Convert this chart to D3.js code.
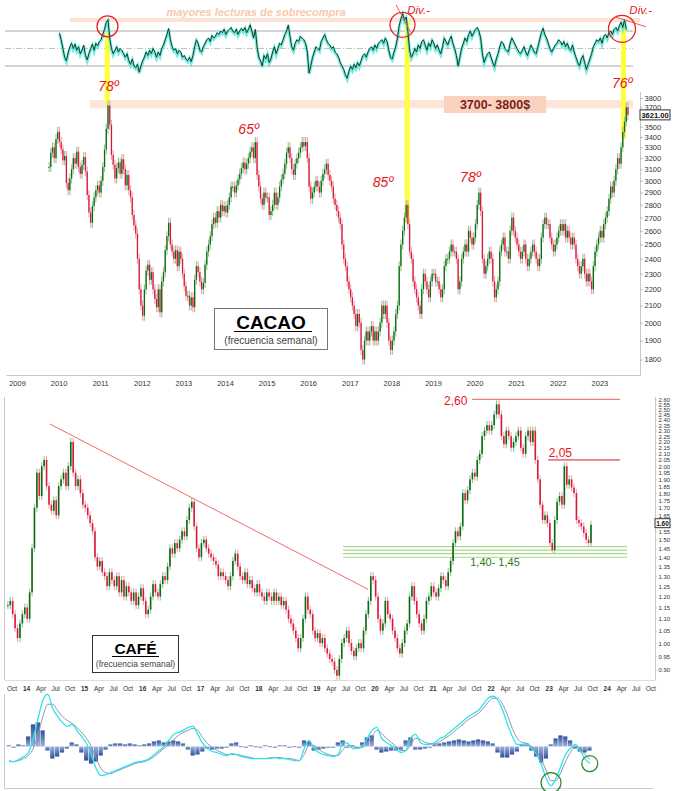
<!DOCTYPE html>
<html><head><meta charset="utf-8">
<script src="https://cdn.jsdelivr.net/npm/d3@7"></script>
<style>body{margin:0;background:#fff}svg{display:block}text{font-family:"Liberation Sans",Arial,sans-serif}</style>
</head><body>
<script>
// ===== CACAO (weekly chart, read semi-monthly), start Oct 2009 =====
const cacaoStart = 2009.75;
const cacaoClose = [
3120,3250,3300,3200,3380,3450,
3350,3280,3180,3220,2980,2920,3020,3100,3200,3150,3260,3120,3060,3140,3210,3080,2880,2740,2660,2790,2860,2920,2960,2900,
3000,3120,3280,3480,3720,3520,3230,3140,3020,3110,3160,3060,3190,3100,2960,3050,2920,2860,2720,2640,2580,2400,2200,2100,
2040,2200,2320,2360,2260,2310,2200,2140,2090,2200,2060,2250,2310,2460,2560,2660,2500,2450,2400,2460,2350,2450,2400,2300,
2220,2160,2160,2100,2150,2090,2260,2350,2310,2250,2200,2240,2360,2450,2500,2560,2650,2700,2660,2750,2700,2800,2750,2790,
2740,2800,2860,2950,2950,2900,2960,3010,3060,3110,3160,3100,3150,3200,3260,3300,3200,3350,3050,2950,2850,2800,2900,2860,
2860,2720,2750,2800,2900,2800,2860,2950,3010,3060,3150,3250,3300,3200,3100,3050,3150,3200,3250,3300,3350,3310,3350,3200,
2950,2850,2900,2950,3000,2950,2900,3000,3060,3100,3150,3050,3000,2950,2850,2800,2750,2700,2650,2500,2400,2350,2250,2200,
2150,2100,2050,1980,2050,2000,1850,1800,1900,1950,1900,1950,1980,1900,1950,1900,1950,2000,2100,2050,2100,2000,1900,1850,
1900,1950,2050,2100,2350,2500,2600,2700,2800,2650,2450,2400,2250,2200,2150,2100,2050,2200,2300,2250,2200,2150,2250,2300,
2300,2250,2250,2200,2150,2200,2350,2400,2400,2450,2500,2450,2450,2400,2200,2250,2400,2450,2500,2450,2600,2550,2500,2550,
2650,2800,2900,2750,2400,2300,2350,2400,2450,2400,2250,2150,2200,2250,2450,2500,2550,2450,2450,2400,2600,2700,2600,2550,
2500,2450,2400,2450,2500,2400,2350,2400,2450,2500,2450,2400,2350,2400,2550,2650,2700,2650,2650,2550,2500,2450,2500,2550,
2600,2650,2600,2650,2550,2600,2550,2500,2550,2500,2400,2350,2300,2350,2400,2300,2250,2300,2250,2200,2350,2450,2500,2550,
2600,2550,2650,2700,2750,2850,2950,2900,3000,3100,3200,3150,3300,3450,3550,3700,3621
];
const cacaoTicks = [1800,1900,2000,2100,2200,2300,2400,2500,2600,2700,2800,2900,3000,3100,3200,3300,3400,3500,3600,3700,3800];
const cacaoYears = [2009,2010,2011,2012,2013,2014,2015,2016,2017,2018,2019,2020,2021,2022,2023];
const cacaoLast = 3621;

// overbought oscillator (semi-monthly), start Jan 2010
const oscStart = 2010.0;
const oscValues = [
68,60,50,40,36,45,52,56,50,55,48,52,44,48,54,42,37,44,50,55,48,56,53,58,
60,66,72,80,83,62,50,44,48,52,46,50,48,44,40,44,36,32,38,30,28,32,23,30,
36,40,46,42,48,44,50,46,40,46,42,50,54,60,66,73,60,52,48,50,44,48,46,40,
42,38,36,40,35,42,52,60,56,48,46,52,56,60,62,58,65,62,64,68,66,70,68,72,
66,70,72,74,70,68,72,66,70,73,70,74,68,72,77,70,62,72,52,40,36,30,42,38,
44,34,38,46,52,44,50,56,54,60,66,70,77,64,52,48,56,60,58,64,62,60,56,46,
22,30,40,46,52,50,48,58,62,66,60,56,54,50,52,46,44,40,34,30,26,20,16,24,
30,26,32,28,34,30,36,42,44,40,46,50,52,48,54,50,56,58,60,56,62,58,48,40,
38,46,52,62,76,84,90,82,86,70,48,40,44,50,46,54,50,58,60,54,48,56,52,60,
56,50,54,48,44,52,62,58,54,60,64,56,50,42,30,40,50,56,62,58,66,70,64,68,
72,74,70,62,44,34,40,44,46,40,34,29,38,44,52,58,56,50,48,46,56,62,58,54,
50,46,44,48,52,46,42,48,54,50,46,44,52,60,68,73,66,62,56,50,46,50,54,56,
60,58,54,58,52,56,50,48,54,46,40,34,30,38,42,34,26,32,38,44,52,56,60,58,
62,56,64,66,62,68,70,66,72,74,70,76,80,74,83,72
];
const oscLevels = [70,50,30];
// annotations: time, osc top, price bottom
const peakMarks = [
  {t:2011.17, osc:68, price:3740, circ:{t:2011.175, osc:75.4, r:10.5}},
  {t:2018.38, osc:83, price:2660, circ:{t:2018.267, osc:77.1, r:12.5}},
  {t:2023.58, osc:74, price:3380, circ:{t:2023.543, osc:72.5, r:13.5}}
];
const degLabels = [
  {t:2011.2, price:3880, text:"78º"},
  {t:2014.57, price:3430, text:"65º"},
  {t:2017.8, price:2950, text:"85º"},
  {t:2019.9, price:2990, text:"78º"},
  {t:2023.55, price:3910, text:"76º"}
];
const divLines = [
  {t1:2018.11, o1:99.9, t2:2018.47, o2:67.9, lt:2018.38, lo:89},
  {t1:2023.375, o1:86.2, t2:2024.12, o2:74.8, lt:2023.72, lo:89}
];

// ===== CAFÉ (weekly chart, read semi-monthly), start Sep 2013 =====
const cafeStart = 2013 + 8/12;
const cafeClose = [
1.16,1.18,1.12,1.06,1.02,1.08,1.12,1.15,
1.10,1.22,1.45,1.70,1.95,1.78,2.00,2.05,1.85,1.72,1.68,1.75,1.65,1.85,1.90,1.95,1.85,2.00,2.20,1.95,1.85,1.90,1.80,1.72,
1.70,1.65,1.60,1.55,1.40,1.35,1.38,1.32,1.30,1.25,1.32,1.28,1.25,1.30,1.22,1.28,1.20,1.25,1.22,1.18,1.22,1.16,1.20,1.24,
1.18,1.12,1.14,1.20,1.26,1.22,1.20,1.26,1.30,1.28,1.35,1.45,1.42,1.48,1.45,1.50,1.55,1.52,1.62,1.70,1.74,1.58,1.45,1.40,
1.48,1.50,1.45,1.42,1.40,1.38,1.36,1.30,1.32,1.30,1.28,1.25,1.30,1.38,1.42,1.35,1.30,1.28,1.32,1.26,1.28,1.24,1.22,1.26,
1.22,1.20,1.18,1.22,1.20,1.18,1.22,1.18,1.20,1.16,1.18,1.14,1.10,1.08,1.05,1.02,0.98,1.02,1.10,1.20,1.14,1.12,1.05,1.02,
1.04,1.00,1.02,0.98,0.96,0.94,0.93,0.90,0.88,0.94,1.00,1.02,1.05,1.00,0.97,0.95,0.98,1.00,0.98,1.05,1.12,1.18,1.30,1.28,
1.20,1.10,1.05,1.08,1.18,1.12,1.10,1.05,1.02,0.98,0.96,1.00,1.05,1.08,1.20,1.25,1.18,1.12,1.08,1.05,1.10,1.18,1.20,1.25,
1.22,1.20,1.24,1.30,1.28,1.25,1.32,1.38,1.48,1.55,1.52,1.58,1.80,1.75,1.82,1.90,1.95,1.92,2.05,2.10,2.25,2.30,2.35,2.30,
2.35,2.45,2.55,2.45,2.25,2.18,2.30,2.25,2.15,2.20,2.25,2.30,2.15,2.10,2.25,2.30,2.20,2.30,2.05,1.90,1.72,1.62,1.65,1.60,
1.48,1.44,1.62,1.74,1.78,1.72,2.00,1.86,1.90,1.84,1.80,1.62,1.60,1.58,1.54,1.50,1.48,1.59
];
const cafeTicks = [0.90,0.95,1.00,1.05,1.10,1.15,1.20,1.25,1.30,1.35,1.40,1.45,1.50,1.55,1.60,1.65,1.70,1.75,1.80,1.85,1.90,1.95,2.00,2.05,2.10,2.15,2.20,2.25,2.30,2.35,2.40,2.45,2.50,2.55,2.60];
const cafeQuarterNames = ["Jan","Apr","Jul","Oct"];
const cafeLast = 1.60;
const cafeTrend = [{t:2014.413, v:2.36},{t:2019.889, v:1.235}];
const cafeResist = [{v:2.60, t1:2021.68, t2:2024.23, label:"2,60", lt:2021.2}, {v:2.05, t1:2022.99, t2:2024.23, label:"2,05", lt:2023.0}];
const cafeSupport = [1.46,1.44,1.42,1.40];
const cafeSupportSpan = [2019.46, 2024.35];

// MACD (monthly), start Sep 2013
const macdLine = [-15,-15,-13,-10,-6,8,28,46,52,38,30,24,20,22,16,10,3,-8,-22,-29,-28,-26,-24,-22,-20,-18,-16,-15,-14,-12,-8,-4,0,6,12,14,16,19,20,12,3,-2,-5,-6,-8,-9,-7,-8,-10,-11,-12,-12,-12,-12,-11,-11,-12,-12,-13,-14,-14,-2,6,-2,-6,-8,-9,-10,-8,4,3,-2,-2,0,8,16,19,8,4,1,-3,-6,-4,8,12,4,2,2,4,8,10,14,18,22,26,30,33,36,42,48,50,46,36,22,10,2,2,2,-2,-8,-18,-32,-39,-32,-20,-8,-2,2,-4,-12,-17];
const macdSignal = [-14,-15,-14,-12,-9,-2,12,30,42,42,36,30,26,23,19,14,8,0,-12,-22,-26,-27,-25,-23,-21,-19,-17,-16,-15,-13,-10,-6,-2,2,7,11,14,16,18,16,9,3,-1,-4,-6,-8,-8,-8,-9,-10,-11,-12,-12,-12,-12,-11,-11,-12,-12,-13,-14,-8,1,1,-3,-6,-8,-9,-9,-3,1,0,-1,-1,3,10,16,13,8,4,0,-4,-4,2,8,7,4,3,3,5,8,11,15,19,23,27,30,33,38,44,48,48,42,31,18,8,4,3,0,-5,-13,-24,-34,-34,-26,-15,-6,0,-2,-8,-13];
const macdHist = [1,-1,2,1,10,22,24,16,-4,-12,-10,-6,-2,4,2,-6,-14,-17,-15,-9,-3,2,3,3,2,3,2,1,2,3,5,6,4,5,6,5,3,-3,-9,-8,-5,-2,-3,-2,-2,-1,3,4,0,-1,1,0,-1,1,0,-1,1,1,-1,0,-1,6,5,-4,-3,-2,-1,-1,4,6,-1,1,-1,4,9,11,-3,-6,-5,-4,-4,-3,6,9,-3,-3,-2,-1,2,3,4,5,6,7,6,5,6,7,6,5,3,-6,-11,-11,-8,-5,2,3,-4,-10,-16,-12,2,8,11,10,6,-2,-5,-6,-4];
const macdCircles = [{m:112, v:-36, r:10}, {m:120, v:-17, r:8}];

// ================= DRAW =================
const W = 679, H = 791;
const svg = d3.select("body").append("svg").attr("width", W).attr("height", H);
svg.append("rect").attr("width", W).attr("height", H).attr("fill", "#fff");

const UP = "#0b6b12", DN = "#d81b3c", UPW = "#93c593", DNW = "#f2a3b3";
const FONT = "'Liberation Sans',Arial,sans-serif";

// ---- cacao scales
const xC = d3.scaleLinear().domain([2009, 2024]).range([17, 17 + 41.6 * 15]);
const yC = d3.scaleLog().domain([1800, 3800]).range([359.5, 98]);
const yO = d3.scaleLinear().domain([30, 70]).range([66, 31]);

// oscillator strip: overbought band + text
svg.append("rect").attr("x", 70).attr("y", 18).attr("width", 570).attr("height", 4).attr("fill", "#fde2d2");
svg.append("text").attr("x", 256).attr("y", 16).attr("text-anchor", "middle")
  .attr("font-size", 11).attr("font-style", "italic").attr("font-weight", "bold").attr("fill", "#f6c9ad")
  .text("mayores lecturas de sobrecompra");
oscLevels.forEach((lv, i) => {
  svg.append("line").attr("x1", 5).attr("x2", 633).attr("y1", yO(lv)).attr("y2", yO(lv))
    .attr("stroke", i === 1 ? "#b9c9b9" : "#a9a9a9").attr("stroke-width", 1)
    .attr("stroke-dasharray", i === 1 ? "6,2,1,2" : null);
});

// price band 3700-3800
svg.append("rect").attr("x", 90).attr("y", yC(3800) + 2).attr("width", 543).attr("height", yC(3700) - yC(3800) - 1).attr("fill", "#fde6d8");

// yellow bars
peakMarks.forEach(p => {
  svg.append("rect").attr("x", xC(p.t) - 2.5).attr("width", 5)
    .attr("y", yO(p.osc)).attr("height", yC(p.price) - yO(p.osc)).attr("fill", "#ffff3a");
});

// oscillator line
const oscData = oscValues.map((v, i) => ({t: oscStart + (i + 0.5) / 24, v}));
const oscLine = d3.line().x(d => xC(d.t)).y(d => yO(d.v));
svg.append("path").datum(oscData).attr("d", oscLine).attr("fill", "none")
  .attr("stroke", "#56e8dc").attr("stroke-width", 3).attr("transform", "translate(0,1.2)").attr("opacity", 0.85);
svg.append("path").datum(oscData).attr("d", oscLine).attr("fill", "none")
  .attr("stroke", "#1d3b22").attr("stroke-width", 1);

// circles and divergence
peakMarks.forEach(p => {
  svg.append("circle").attr("cx", xC(p.circ.t)).attr("cy", yO(p.circ.osc)).attr("r", p.circ.r)
    .attr("fill", "none").attr("stroke", "#e8222a").attr("stroke-width", 1.3);
});
divLines.forEach(d => {
  svg.append("line").attr("x1", xC(d.t1)).attr("y1", yO(d.o1)).attr("x2", xC(d.t2)).attr("y2", yO(d.o2))
    .attr("stroke", "#ef5a5a").attr("stroke-width", 1);
  svg.append("text").attr("x", xC(d.lt)).attr("y", yO(d.lo)).attr("font-size", 11.5)
    .attr("font-style", "italic").attr("fill", "#e8222a").text("Div.-");
});

// candles: open = previous close
function candles(g, closes, start, step, x, y, bw, wick) {
  closes.forEach((c, i) => {
    const o = i ? closes[i - 1] : c;
    const t = start + (i + 0.5) * step;
    const up = c >= o;
    const hi = Math.max(o, c), lo = Math.min(o, c);
    const cx = x(t);
    g.append("line").attr("x1", cx).attr("x2", cx).attr("y1", y(hi) - wick).attr("y2", y(lo) + wick)
      .attr("stroke", up ? UPW : DNW).attr("stroke-width", 1.1);
    g.append("rect").attr("x", cx - bw / 2).attr("width", bw)
      .attr("y", y(hi)).attr("height", Math.max(1, y(lo) - y(hi)))
      .attr("fill", up ? UP : DN);
  });
}
candles(svg.append("g"), cacaoClose, cacaoStart, 1 / 24, xC, yC, 1.3, 5);

// degree labels
degLabels.forEach(d => {
  svg.append("text").attr("x", xC(d.t)).attr("y", yC(d.price)).attr("text-anchor", "middle")
    .attr("font-size", 14).attr("font-style", "italic").attr("fill", "#e8141e").text(d.text);
});

// 3700-3800 label
svg.append("rect").attr("x", 444).attr("y", 96).attr("width", 102).attr("height", 17).attr("fill", "#fad3c0");
svg.append("text").attr("x", 495).attr("y", 109).attr("text-anchor", "middle").attr("font-size", 12.5)
  .attr("font-weight", "bold").attr("fill", "#7a1c1c").text("3700- 3800$");

// cacao axes
svg.append("line").attr("x1", 6.5).attr("x2", 641).attr("y1", 375.5).attr("y2", 375.5).attr("stroke", "#c8c8c8");
svg.append("line").attr("x1", 640.5).attr("x2", 640.5).attr("y1", 92).attr("y2", 376).attr("stroke", "#c8c8c8");
const cacaoShown = cacaoTicks.filter(v => Math.abs(yC(v) - yC(cacaoLast)) > 6);
const axC = svg.append("g").attr("transform", "translate(640.5,0)")
  .call(d3.axisRight(yC).tickValues(cacaoShown).tickFormat(d3.format("d")).tickSize(2).tickPadding(2));
axC.select(".domain").remove();
axC.selectAll("text").attr("font-size", 7.5).attr("fill", "#333").attr("font-family", FONT);
axC.selectAll("line").attr("stroke", "#aaa");
svg.append("rect").attr("x", 640).attr("y", yC(cacaoLast) - 5).attr("width", 30).attr("height", 10)
  .attr("fill", "#fff").attr("stroke", "#333").attr("stroke-width", 1);
svg.append("text").attr("x", 655).attr("y", yC(cacaoLast) + 3).attr("text-anchor", "middle")
  .attr("font-size", 7.5).attr("font-weight", "bold").attr("fill", "#111").text(d3.format(".2f")(cacaoLast));
const axCx = svg.append("g").attr("transform", "translate(0,376)")
  .call(d3.axisBottom(xC).tickValues(cacaoYears).tickFormat(d3.format("d")).tickSize(0).tickPadding(5));
axCx.select(".domain").remove();
axCx.selectAll("text").attr("font-size", 7.5).attr("fill", "#333").attr("font-family", FONT);

// CACAO title box
svg.append("rect").attr("x", 214.5).attr("y", 308.5).attr("width", 113).attr("height", 41)
  .attr("fill", "#fff").attr("stroke", "#777").attr("stroke-width", 1);
svg.append("text").attr("x", 271).attr("y", 329).attr("text-anchor", "middle").attr("font-size", 19)
  .attr("font-weight", "bold").attr("fill", "#000").text("CACAO");
svg.append("line").attr("x1", 234).attr("x2", 312).attr("y1", 331.5).attr("y2", 331.5).attr("stroke", "#000").attr("stroke-width", 1.2);
svg.append("text").attr("x", 271).attr("y", 344).attr("text-anchor", "middle").attr("font-size", 10)
  .attr("fill", "#444").text("(frecuencia semanal)");

// ---- CAFÉ
const xF = d3.scaleLinear().domain([2014, 2024]).range([26, 26 + 580.7]);
const yF = d3.scaleLog().domain([0.9, 2.6]).range([670, 399.3]);

svg.append("line").attr("x1", 4.5).attr("x2", 4.5).attr("y1", 397).attr("y2", 680).attr("stroke", "#ccc");
svg.append("line").attr("x1", 655.5).attr("x2", 655.5).attr("y1", 397).attr("y2", 680).attr("stroke", "#ccc");
svg.append("line").attr("x1", 4.5).attr("x2", 655.5).attr("y1", 680.5).attr("y2", 680.5).attr("stroke", "#ddd");

// support lines
cafeSupport.forEach(v => {
  svg.append("line").attr("x1", xF(cafeSupportSpan[0])).attr("x2", xF(cafeSupportSpan[1]))
    .attr("y1", yF(v)).attr("y2", yF(v)).attr("stroke", "#a9d98c").attr("stroke-width", 1.2);
});
svg.append("text").attr("x", xF(2021.65)).attr("y", 566).attr("font-size", 11).attr("fill", "#2e7a1a").text("1,40- 1,45");

// trend line
svg.append("line").attr("x1", xF(cafeTrend[0].t)).attr("y1", yF(cafeTrend[0].v))
  .attr("x2", xF(cafeTrend[1].t)).attr("y2", yF(cafeTrend[1].v)).attr("stroke", "#f06a6a").attr("stroke-width", 1);

// resistance lines
cafeResist.forEach(r => {
  svg.append("line").attr("x1", xF(r.t1)).attr("x2", xF(r.t2)).attr("y1", yF(r.v)).attr("y2", yF(r.v))
    .attr("stroke", r.v > 2.5 ? "#f05a5a" : "#d8142a").attr("stroke-width", 1);
  svg.append("text").attr("x", xF(r.lt)).attr("y", yF(r.v) + (r.v > 2.5 ? 6 : -3)).attr("font-size", 12)
    .attr("fill", "#e8141e").text(r.label);
});

candles(svg.append("g"), cafeClose, cafeStart, 1 / 24, xF, yF, 1.6, 4);

const cafeShown = cafeTicks.filter(v => Math.abs(yF(v) - yF(cafeLast)) > 4);
const axF = svg.append("g").attr("transform", "translate(655.5,0)")
  .call(d3.axisRight(yF).tickValues(cafeShown).tickFormat(d3.format(".2f")).tickSize(1).tickPadding(2));
axF.select(".domain").remove();
axF.selectAll("text").attr("font-size", 6).attr("fill", "#333").attr("font-family", FONT);
axF.selectAll("line").attr("stroke", "#aaa");
svg.append("rect").attr("x", 655).attr("y", yF(cafeLast) - 4.5).attr("width", 15).attr("height", 9)
  .attr("fill", "#fff").attr("stroke", "#333");
svg.append("text").attr("x", 662.5).attr("y", yF(cafeLast) + 2.5).attr("text-anchor", "middle").attr("font-size", 6.5)
  .attr("font-weight", "bold").attr("fill", "#111").text(d3.format(".2f")(cafeLast));

// quarterly axis
const qTicks = [];
for (let y = 2013; y <= 2024; y++) for (let q = 0; q < 4; q++) {
  const t = y + q * 0.25;
  if (t >= 2013.74 && t <= 2024.76) qTicks.push(t);
}
const axFx = svg.append("g").attr("transform", "translate(0,681)")
  .call(d3.axisBottom(xF).tickValues(qTicks).tickSize(0).tickPadding(5)
    .tickFormat(t => { const q = Math.round((t - Math.floor(t)) * 4); return q === 0 ? String(Math.floor(t) % 100) : cafeQuarterNames[q]; }));
axFx.select(".domain").remove();
axFx.selectAll("text").attr("font-size", 6.5).attr("fill", "#333").attr("font-family", FONT)
  .attr("font-weight", t => (Math.abs(t - Math.round(t)) < 0.01 ? "bold" : "normal"));

// CAFÉ title box
svg.append("rect").attr("x", 92.5).attr("y", 635.5).attr("width", 86).attr("height", 37)
  .attr("fill", "#fff").attr("stroke", "#333").attr("stroke-width", 1);
svg.append("text").attr("x", 135.5).attr("y", 654).attr("text-anchor", "middle").attr("font-size", 15.5)
  .attr("font-weight", "bold").attr("fill", "#000").text("CAFÉ");
svg.append("line").attr("x1", 112).attr("x2", 159).attr("y1", 656.5).attr("y2", 656.5).attr("stroke", "#000").attr("stroke-width", 1.2);
svg.append("text").attr("x", 135.5).attr("y", 667).attr("text-anchor", "middle").attr("font-size", 8.5)
  .attr("fill", "#444").text("(frecuencia semanal)");

// ---- MACD panel
const yM = d3.scaleLinear().domain([-40, 55]).range([786.7, 691.2]);
const tM = m => cafeStart + (m + 0.5) / 12;
svg.append("line").attr("x1", 4.5).attr("x2", 4.5).attr("y1", 694).attr("y2", 789).attr("stroke", "#ccc");
svg.append("line").attr("x1", 4.5).attr("x2", 653).attr("y1", 788.5).attr("y2", 788.5).attr("stroke", "#ccc");

const defs = svg.append("defs");
const gUp = defs.append("linearGradient").attr("id", "hup").attr("x1", 0).attr("x2", 0).attr("y1", 0).attr("y2", 1);
gUp.append("stop").attr("offset", "0%").attr("stop-color", "#2f4f9a");
gUp.append("stop").attr("offset", "100%").attr("stop-color", "#9fb3de");
const gDn = defs.append("linearGradient").attr("id", "hdn").attr("x1", 0).attr("x2", 0).attr("y1", 0).attr("y2", 1);
gDn.append("stop").attr("offset", "0%").attr("stop-color", "#9fb3de");
gDn.append("stop").attr("offset", "100%").attr("stop-color", "#2f4f9a");
const mw = xF(2014 + 1 / 12) - xF(2014);
macdHist.forEach((v, m) => {
  const y0 = yM(0), y1 = yM(v);
  svg.append("rect").attr("x", xF(tM(m)) - mw / 2).attr("width", mw - 0.6)
    .attr("y", Math.min(y0, y1)).attr("height", Math.max(0.8, Math.abs(y1 - y0)))
    .attr("fill", v >= 0 ? "url(#hup)" : "url(#hdn)");
});
const mLine = d3.line().x((d, m) => xF(tM(m))).y(d => yM(d)).curve(d3.curveMonotoneX);
svg.append("path").datum(macdSignal).attr("d", mLine).attr("fill", "none").attr("stroke", "#8f93ad").attr("stroke-width", 1);
svg.append("path").datum(macdLine).attr("d", mLine).attr("fill", "none").attr("stroke", "#2fe3ea").attr("stroke-width", 1.3);
macdCircles.forEach(c => {
  svg.append("circle").attr("cx", xF(tM(c.m))).attr("cy", yM(c.v)).attr("r", c.r)
    .attr("fill", "none").attr("stroke", "#1d8a2a").attr("stroke-width", 1.2);
});
</script>
</body></html>
